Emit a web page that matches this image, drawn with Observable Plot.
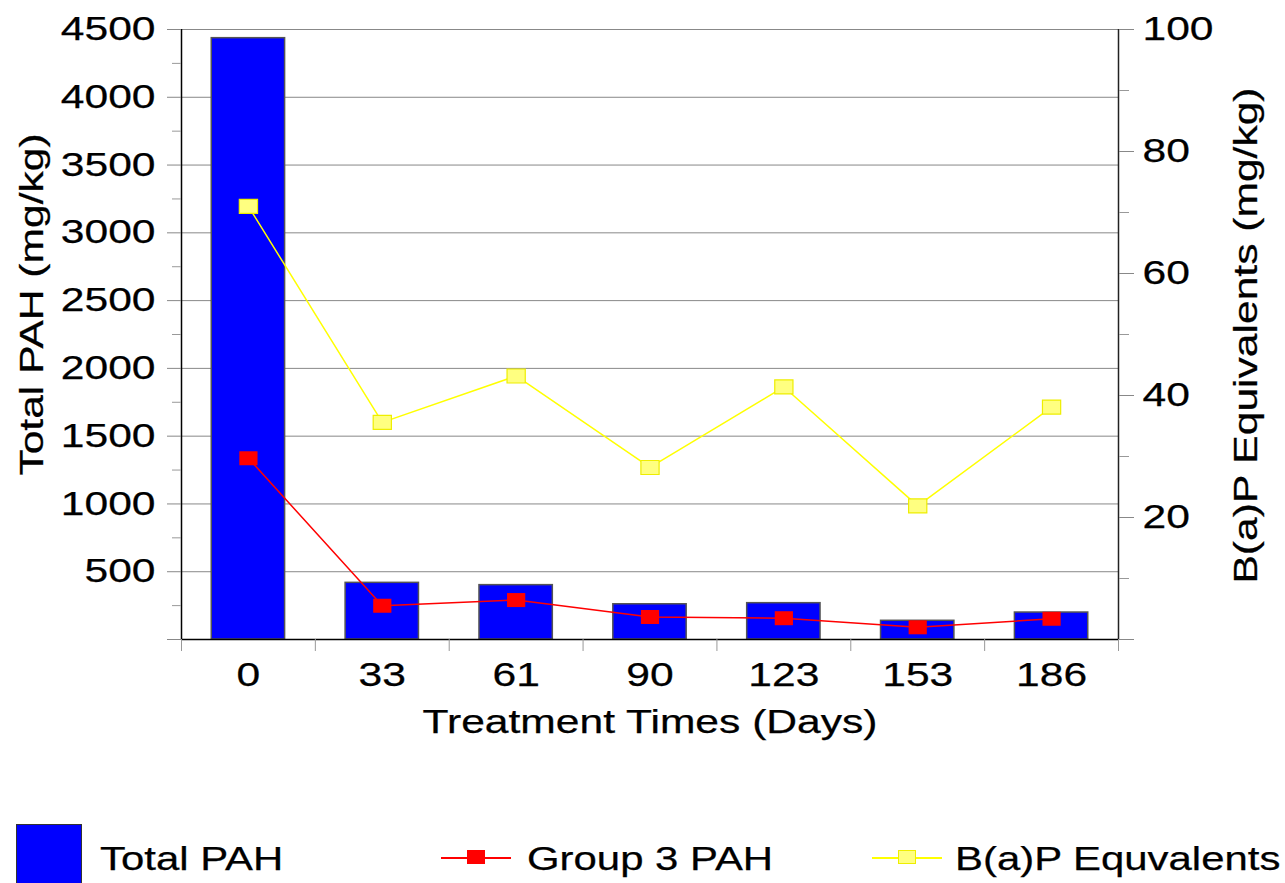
<!DOCTYPE html>
<html>
<head>
<meta charset="utf-8">
<script src="https://cdn.jsdelivr.net/npm/d3@7"></script>
<script src="https://cdn.jsdelivr.net/npm/@observablehq/plot@0.6"></script>
<style>
  html, body { margin: 0; padding: 0; background: white; }
  #wrap { width: 1285px; height: 883px; position: relative; overflow: hidden; font-family: "Liberation Sans", Arial, sans-serif; }
  #legend { position: relative; width: 1285px; height: 93px; }
  .lg-text { position: absolute; font-size: 33px; line-height: 40px; height: 40px; white-space: nowrap; display: inline-block; transform: scaleX(1.27); transform-origin: left center; color: black; -webkit-text-stroke: 0.25px black; }
  .lg-box { position: absolute; }
  #chart svg text { stroke: black; stroke-width: 0.25px; paint-order: stroke; }
</style>
</head>
<body>
<div id="wrap">
  <div id="chart"></div>
  <div id="legend"></div>
</div>
<script>
// ---- data ----
const days = ["0", "33", "61", "90", "123", "153", "186"];
const totalPAH = [4436, 418, 401, 260, 268, 138, 199];       // left axis (mg/kg)
const group3PAH = [1337, 249, 291, 166, 157, 90, 153];       // left axis (mg/kg)
const bapEquivalents = [71.0, 35.6, 43.2, 28.2, 41.4, 21.9, 38.1]; // right axis (mg/kg)
const leftTicks = [500, 1000, 1500, 2000, 2500, 3000, 3500, 4000, 4500];
const rightTicks = [20, 40, 60, 80, 100];
const seriesNames = ["Total PAH", "Group 3 PAH", "B(a)P Equvalents"];
const xTitle = "Treatment Times (Days)";
const yLeftTitle = "Total PAH (mg/kg)";
const yRightTitle = "B(a)P Equivalents (mg/kg)";

const leftMax = 4500, rightMax = 100;
const K = leftMax / rightMax; // right-axis value -> left-axis units

const rows = days.map((d, i) => ({i, day: d, total: totalPAH[i], g3: group3PAH[i], bap: bapEquivalents[i]}));

const rectSym = {
  draw(ctx, size) {
    const s = Math.sqrt(size / Math.PI);
    ctx.rect(-s * 1.3, -s, s * 2.6, s * 2);
  }
};

const W = 1285, H = 790;
const FONT = "Liberation Sans, Arial, sans-serif";
const FS = 33;

const svg = Plot.plot({
  width: W,
  height: H,
  marginLeft: 181,
  marginRight: 167,
  marginTop: 29,
  marginBottom: H - 639,
  style: {fontFamily: FONT, fontSize: FS + "px", background: "white", color: "black"},
  x: {type: "linear", domain: [0, days.length], axis: null},
  y: {type: "linear", domain: [0, leftMax], axis: null},
  marks: [
    Plot.gridY({ticks: leftTicks, stroke: "#888", strokeOpacity: 1, strokeWidth: 1}),
    Plot.rectY(rows, {
      x1: d => d.i + 0.5 - 0.274, x2: d => d.i + 0.5 + 0.274,
      y: "total", fill: "#0000ff", stroke: "#555", strokeWidth: 1.5
    }),
    Plot.line(rows, {x: d => d.i + 0.5, y: d => d.bap * K, stroke: "#ffff00", strokeWidth: 1.5}),
    Plot.dot(rows, {x: d => d.i + 0.5, y: d => d.bap * K, symbol: rectSym, r: 7, fill: "#ffff80", stroke: "#eeee00", strokeWidth: 1.2}),
    Plot.line(rows, {x: d => d.i + 0.5, y: "g3", stroke: "#ff0000", strokeWidth: 1.5}),
    Plot.dot(rows, {x: d => d.i + 0.5, y: "g3", symbol: rectSym, r: 7, fill: "#ff0000", stroke: "none"}),
    // axis lines
    Plot.ruleX([0], {stroke: "black", strokeWidth: 1.5}),
    Plot.ruleX([days.length], {stroke: "#222", strokeWidth: 1.5}),
    Plot.ruleY([0], {stroke: "black", strokeWidth: 1.5}),
    // left axis
    Plot.axisY({anchor: "left", ticks: [0, ...leftTicks], tickFormat: d => d === 0 ? "" : String(d), tickSize: 14, tickPadding: 12, stroke: "#888", fontSize: FS, label: null}),
    Plot.axisY({anchor: "left", ticks: leftTicks.map(v => v - 250), tickFormat: () => "", tickSize: 9, stroke: "#999", label: null}),
    // right axis (mapped from right units)
    Plot.axisY({anchor: "right", ticks: [0, ...rightTicks].map(v => v * K), tickFormat: d => d === 0 ? "" : String(Math.round(d / K)), tickSize: 15, tickPadding: 9, stroke: "#888", fontSize: FS, label: null}),
    Plot.axisY({anchor: "right", ticks: rightTicks.map(v => (v - 10) * K), tickFormat: () => "", tickSize: 10, stroke: "#999", label: null}),
    // x axis
    Plot.axisX({ticks: rows.map(d => d.i + 0.5), tickFormat: v => days[Math.floor(v)], tickSize: 0, tickPadding: 23, fontSize: FS, label: null}),
    Plot.axisX({ticks: d3.range(0, days.length + 1), tickFormat: () => "", tickSize: 12, stroke: "#999", label: null}),
    // titles
    Plot.text([xTitle], {text: d => d, frameAnchor: "bottom", textAnchor: "middle", lineAnchor: "middle", dy: 83, fontSize: FS, fill: "black"}),
    Plot.text([yLeftTitle], {text: d => d, frameAnchor: "left", textAnchor: "middle", lineAnchor: "middle", rotate: -90, dx: -149, dy: -30, fontSize: FS, fill: "black"}),
    Plot.text([yRightTitle], {text: d => d, frameAnchor: "right", textAnchor: "middle", lineAnchor: "middle", rotate: -90, dx: 128, dy: 1, fontSize: FS, fill: "black"})
  ]
});

document.getElementById("chart").append(svg);

// stretch glyphs along the text direction, as in the reference
const STRETCH = 1.29;
svg.querySelectorAll("text").forEach(t => {
  const L = t.getComputedTextLength();
  if (L > 0) {
    t.setAttribute("textLength", (L * STRETCH).toFixed(1));
    t.setAttribute("lengthAdjust", "spacingAndGlyphs");
  }
});

// legend (below the SVG)
const legend = document.getElementById("legend");
const top0 = H; // legend div starts at this page y
function el(cls, css, text) {
  const e = document.createElement("div");
  e.className = cls;
  Object.assign(e.style, css);
  if (text) e.textContent = text;
  legend.append(e);
  return e;
}
const textTop = (859 - top0 - 20) + "px";
// Total PAH
el("lg-box", {left: "16px", top: (824 - top0) + "px", width: "66px", height: "70px", background: "#0000ff", border: "1px solid #333", boxSizing: "border-box"});
el("lg-text", {left: "100px", top: textTop}, seriesNames[0]);
// Group 3 PAH
el("lg-box", {left: "441px", top: (857 - top0) + "px", width: "70px", height: "1.5px", background: "#ff0000"});
el("lg-box", {left: "467px", top: (850 - top0) + "px", width: "18px", height: "14px", background: "#ff0000"});
el("lg-text", {left: "527px", top: textTop}, seriesNames[1]);
// B(a)P
el("lg-box", {left: "872px", top: (857 - top0) + "px", width: "70px", height: "1.5px", background: "#ffff00"});
el("lg-box", {left: "898px", top: (850 - top0) + "px", width: "18px", height: "14px", background: "#ffff80", border: "1px solid #eeee00", boxSizing: "border-box"});
el("lg-text", {left: "955px", top: textTop}, seriesNames[2]);
</script>
</body>
</html>
